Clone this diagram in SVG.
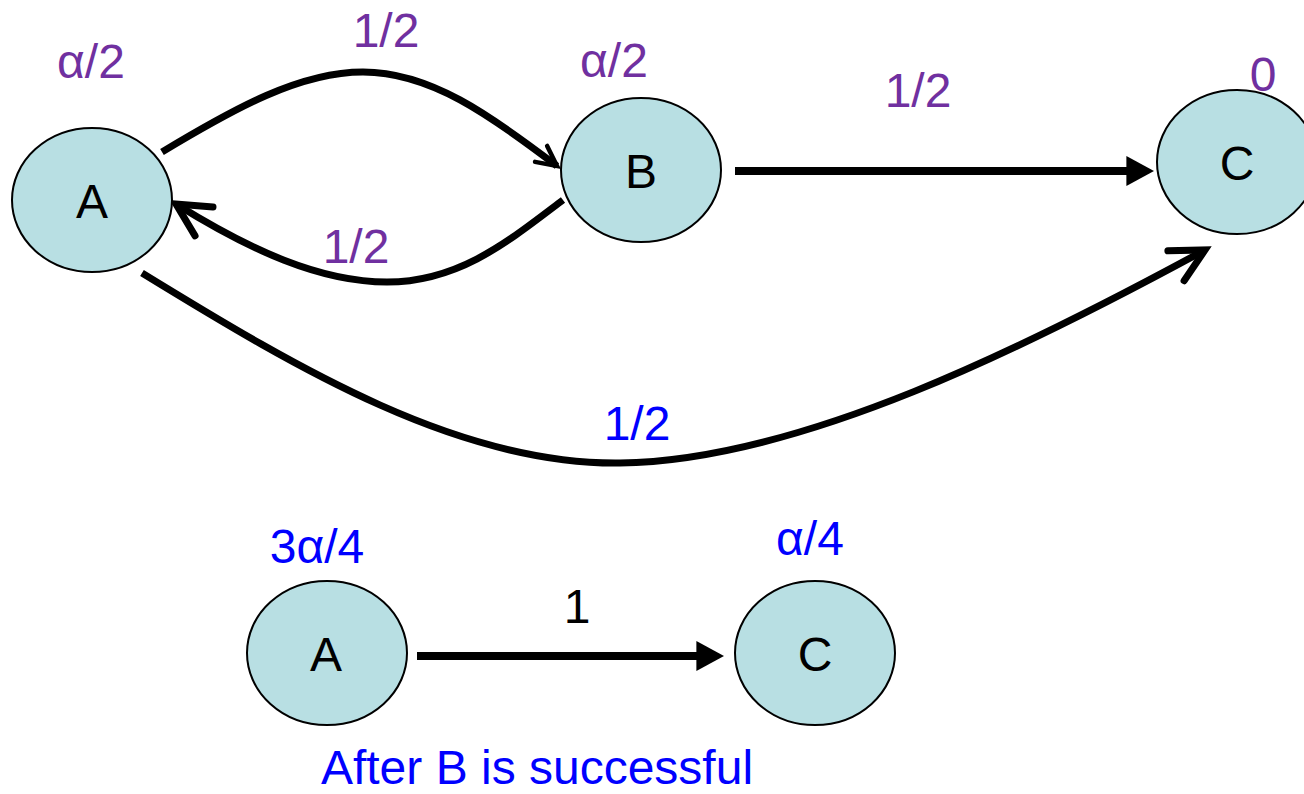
<svg xmlns="http://www.w3.org/2000/svg" width="1304" height="794" viewBox="0 0 1304 794">
  <style>
    .node { fill: #B8DFE3; stroke: #000; stroke-width: 2; }
    .lbl { font-family: "Liberation Sans", Arial, sans-serif; font-size: 48px; text-anchor: middle; }
    .name { fill: #000; }
    .purple { fill: #7030A0; }
    .blue { fill: #0000FF; }
    .edge { fill: none; stroke: #000; stroke-width: 7; }
    .straight { fill: none; stroke: #000; stroke-width: 8; }
  </style>
  <defs>
    <marker id="open-lg" markerUnits="userSpaceOnUse" markerWidth="60" markerHeight="60" refX="0" refY="0" viewBox="-40 -30 50 60" orient="auto">
      <path d="M-33,-17 L0,0 L-33,17" fill="none" stroke="#000" stroke-width="7" stroke-linecap="round" stroke-linejoin="miter"/>
    </marker>
    <marker id="open-sm" markerUnits="userSpaceOnUse" markerWidth="40" markerHeight="40" refX="0" refY="0" viewBox="-25 -20 30 40" orient="auto">
      <path d="M-20,-10 L0,0 L-20,10" fill="none" stroke="#000" stroke-width="4.5" stroke-linecap="round"/>
    </marker>
    <marker id="solid" markerUnits="userSpaceOnUse" markerWidth="30" markerHeight="30" refX="3" refY="12.5" viewBox="0 0 24 25" orient="auto">
      <path d="M0,0 L23,12.5 L0,25 Z" fill="#000"/>
    </marker>
  </defs>

  <!-- connectors -->
  <g id="connectors">
    <path id="e-a-b" class="edge" d="M162,152 C 235,108 300,72 363,72 C 430,72 490,115 557,166" marker-end="url(#open-sm)"/>
    <path id="e-b-a" class="edge" d="M563,200 C 510,240 460,282 387,282 C 320,282 250,250 176,204" marker-end="url(#open-lg)"/>
    <path id="e-a-c" class="edge" d="M142,273 C 300,370 460,465 620,463 C 800,461 1030,345 1205,250" marker-end="url(#open-lg)"/>
    <path id="e-b-c" class="straight" d="M735,171 L1130,171" marker-end="url(#solid)"/>
    <path id="e-a2-c2" class="straight" d="M417,656 L700,656" marker-end="url(#solid)"/>
  </g>

  <!-- edge labels -->
  <g id="edge-labels">
    <text class="lbl purple" x="386" y="47">1/2</text>
    <text class="lbl purple" x="356" y="263">1/2</text>
    <text class="lbl purple" x="918" y="107">1/2</text>
    <text class="lbl blue" x="637" y="440">1/2</text>
    <text class="lbl name" x="577" y="623">1</text>
  </g>

  <!-- upper graph -->
  <g id="node-a">
    <ellipse class="node" cx="92" cy="200" rx="80" ry="72"/>
    <text class="lbl name" x="92" y="218">A</text>
    <text class="lbl purple" x="91" y="78">α/2</text>
  </g>
  <g id="node-b">
    <ellipse class="node" cx="641" cy="170" rx="80" ry="72"/>
    <text class="lbl name" x="641" y="188">B</text>
    <text class="lbl purple" x="614" y="77">α/2</text>
  </g>
  <g id="node-c">
    <ellipse class="node" cx="1237" cy="162" rx="80" ry="72"/>
    <text class="lbl name" x="1237" y="180">C</text>
    <text class="lbl purple" x="1263" y="91">0</text>
  </g>

  <!-- lower graph -->
  <g id="node-a2">
    <ellipse class="node" cx="327" cy="653" rx="80" ry="72"/>
    <text class="lbl name" x="326" y="671">A</text>
    <text class="lbl blue" x="317" y="563">3α/4</text>
  </g>
  <g id="node-c2">
    <ellipse class="node" cx="815" cy="653" rx="80" ry="72"/>
    <text class="lbl name" x="815" y="671">C</text>
    <text class="lbl blue" x="810" y="555">α/4</text>
  </g>

  <text id="caption" class="lbl blue" x="537" y="784">After B is successful</text>
</svg>
